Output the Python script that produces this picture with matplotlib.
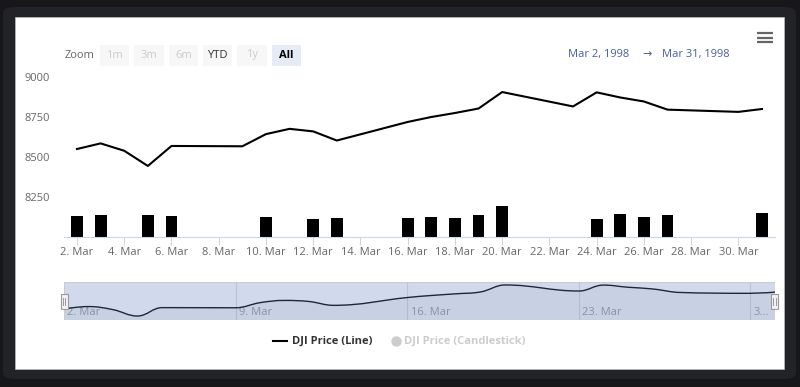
import datetime as dt
import numpy as np
import matplotlib
matplotlib.use("Agg")
import matplotlib.pyplot as plt
import matplotlib.dates as mdates
from matplotlib.patches import Rectangle, FancyBboxPatch, PathPatch
from matplotlib.path import Path
from matplotlib.lines import Line2D
from matplotlib.ticker import FuncFormatter

plt.rcParams['font.family'] = ['Open Sans', 'DejaVu Sans']

# DJI close, March 1998 (trading days only)
line_days = [2, 3, 4, 5, 6, 9, 10, 11, 12, 13, 16, 17, 18, 19, 20,
             23, 24, 25, 26, 27, 30, 31]
line_close = [8550, 8585, 8539, 8444, 8569, 8567, 8643, 8676, 8660, 8603,
              8719, 8750, 8775, 8803, 8906, 8816, 8904, 8872, 8847, 8796,
              8782, 8800]

# black columns near the bottom of the price axis
bar_days = [2, 3, 5, 6, 10, 12, 13, 16, 17, 18, 19, 20, 24, 25, 26, 27, 31]
bar_vals = [8133, 8139, 8139, 8133, 8127, 8111, 8117, 8117, 8123, 8117,
            8136, 8192, 8111, 8146, 8123, 8139, 8150]

y_ticks = [8250, 8500, 8750, 9000]
zoom_buttons = ['1m', '3m', '6m', 'YTD', '1y', 'All']
nav_label_days = [2, 9, 16, 23, 30]

W, H = 800, 387


def fx(x):
	return x / W


def fy(y):
	return 1 - y / H


def mar(d):
	return mdates.date2num(dt.datetime(1998, 3, d))


fig = plt.figure(figsize=(W / 100, H / 100), dpi=100)
fig.patch.set_facecolor('#17171a')

# dark rounded band and white panel
fig.patches.append(FancyBboxPatch((fx(3), fy(379)), fx(793), 372 / H,
                                  boxstyle='round,pad=0,rounding_size=0.015',
                                  transform=fig.transFigure, facecolor='#222327',
                                  edgecolor='none', zorder=-3))
fig.patches.append(Rectangle((fx(15), fy(369)), fx(769), 352 / H,
                             transform=fig.transFigure, facecolor='white',
                             edgecolor='#bbbbbb', linewidth=0.5, zorder=-2))

# ---- main chart
ax = fig.add_axes([fx(64), fy(237), fx(711), 160 / H])
ax.set_zorder(2)
ax.set_facecolor('none')
xd = [mar(d) for d in line_days]
bd = [mar(d) for d in bar_days]
ax.bar(bd, bar_vals, width=0.5, color='black', zorder=2)
ax.plot(xd, line_close, color='black', linewidth=1.5, zorder=3)
ax.set_xlim(mar(2) - 0.55, mar(31) + 0.55)
ax.set_ylim(8000, 9000)
ax.set_yticks(y_ticks)
ax.set_xticks([mar(d) for d in range(2, 31, 2)])
ax.xaxis.set_major_formatter(FuncFormatter(
	lambda v, p: f"{mdates.num2date(v).day}. Mar"))
ax.tick_params(axis='y', length=0, pad=10, labelsize=8, labelcolor='#666666')
ax.tick_params(axis='x', length=5.8, width=0.8, color='#ccd6eb', pad=1.5,
               labelsize=8, labelcolor='#666666')
for s in ['top', 'right', 'left']:
	ax.spines[s].set_visible(False)
ax.spines['bottom'].set_color('#ccd6eb')
ax.spines['bottom'].set_linewidth(0.8)

# ---- navigator
nav = fig.add_axes([fx(64), fy(320), fx(711), 38 / H])
nav.set_zorder(2)
nav.set_xlim(mar(2), mar(31))
nav.set_ylim(8385, 8950)
nav.set_axis_off()

# smoothed navigator line (Highcharts-like spline control points)
xs = np.array(xd)
ys = np.array(line_close, dtype=float)
n = len(xs)
lc = [None] * n
rc = [None] * n
sm, den = 1.5, 2.5
for i in range(1, n - 1):
	lx = (sm * xs[i] + xs[i - 1]) / den
	ly = (sm * ys[i] + ys[i - 1]) / den
	rx = (sm * xs[i] + xs[i + 1]) / den
	ry = (sm * ys[i] + ys[i + 1]) / den
	if rx != lx:
		corr = (ry - ly) * (rx - xs[i]) / (rx - lx) + ys[i] - ry
		ly += corr
		ry += corr
	if ly > max(ys[i - 1], ys[i]):
		ly = max(ys[i - 1], ys[i]); ry = 2 * ys[i] - ly
	elif ly < min(ys[i - 1], ys[i]):
		ly = min(ys[i - 1], ys[i]); ry = 2 * ys[i] - ly
	if ry > max(ys[i + 1], ys[i]):
		ry = max(ys[i + 1], ys[i]); ly = 2 * ys[i] - ry
	elif ry < min(ys[i + 1], ys[i]):
		ry = min(ys[i + 1], ys[i]); ly = 2 * ys[i] - ry
	lc[i] = (lx, ly)
	rc[i] = (rx, ry)
verts = [(xs[0], ys[0])]
codes = [Path.MOVETO]
for i in range(1, n):
	c1 = rc[i - 1] if rc[i - 1] else (xs[i - 1], ys[i - 1])
	c2 = lc[i] if lc[i] else (xs[i], ys[i])
	verts += [c1, c2, (xs[i], ys[i])]
	codes += [Path.CURVE4] * 3
nav.add_patch(PathPatch(Path(verts, codes), facecolor='none',
                        edgecolor='black', linewidth=1, zorder=3))
area_v = verts + [(xs[-1], 8385), (xs[0], 8385), (xs[0], ys[0])]
area_c = codes + [Path.LINETO, Path.LINETO, Path.CLOSEPOLY]
nav.add_patch(PathPatch(Path(area_v, area_c), facecolor='black', alpha=0.05,
                        edgecolor='none', zorder=2))
for d in nav_label_days[1:]:
	nav.axvline(mar(d), color='#e0e0e0', linewidth=0.8, zorder=1)
for d in nav_label_days:
	lab = f"{d}. Mar" if d != 30 else "3..."
	nav.text(mar(d) + 0.14, 8385 + 565 * 0.2, lab, fontsize=8, color='#999999',
	         ha='left', va='center', zorder=2)
# selected range mask
nav.add_patch(Rectangle((0, 0), 1, 1, transform=nav.transAxes,
                        facecolor=(102 / 255, 133 / 255, 194 / 255), alpha=0.3,
                        edgecolor='none', zorder=4))
nav.add_patch(Rectangle((0, 0), 1, 1, transform=nav.transAxes, facecolor='none',
                        edgecolor='#cccccc', linewidth=0.8, zorder=5))

# handles
for hx in [64, 774.5]:
	fig.patches.append(Rectangle((fx(hx - 3.5), fy(309)), fx(7), 15 / H,
	                             transform=fig.transFigure, facecolor='#f2f2f2',
	                             edgecolor='#999999', linewidth=0.8, zorder=6))
	for dx in [-1.2, 1.2]:
		fig.lines.append(Line2D([fx(hx + dx)] * 2, [fy(298), fy(305)],
		                        transform=fig.transFigure, color='#999999',
		                        linewidth=0.7, zorder=7))

# ---- range selector
fig.text(fx(65), fy(55), 'Zoom', fontsize=8, color='#666666', ha='left', va='center')
for i, b in enumerate(zoom_buttons):
	x0 = 100 + i * 34.3
	if b == 'All':
		bg, tc, fw = '#e6ebf5', '#000000', 'bold'
	elif b == 'YTD':
		bg, tc, fw = '#f7f7f7', '#333333', 'normal'
	else:
		bg, tc, fw = '#f7f7f7', '#cccccc', 'normal'
	fig.patches.append(Rectangle((fx(x0), fy(65.5)), fx(29.3), 20.5 / H,
	                             transform=fig.transFigure, facecolor=bg,
	                             edgecolor='none', zorder=2))
	fig.text(fx(x0 + 14.65), fy(55), b, fontsize=8, color=tc, fontweight=fw,
	         ha='center', va='center', zorder=3)

# date range inputs
date_col = '#4a5ca3'
fig.text(fx(568), fy(54.5), 'Mar 2, 1998', fontsize=8, color=date_col,
         ha='left', va='center')
fig.text(fx(647), fy(54.5), '→', fontsize=8, color=date_col,
         ha='center', va='center')
fig.text(fx(662), fy(54.5), 'Mar 31, 1998', fontsize=8, color=date_col,
         ha='left', va='center')

# context menu icon
for yy in [33, 37.5, 42]:
	fig.lines.append(Line2D([fx(757), fx(773)], [fy(yy)] * 2,
	                        transform=fig.transFigure, color='#666666',
	                        linewidth=1.6, solid_capstyle='butt', zorder=3))

# ---- legend
fig.lines.append(Line2D([fx(273), fx(287)], [fy(341)] * 2, transform=fig.transFigure,
                        color='black', linewidth=1.5, zorder=3))
fig.text(fx(292), fy(341), 'DJI Price (Line)', fontsize=8, fontweight='bold',
         color='#333333', ha='left', va='center')
fig.lines.append(Line2D([fx(396)], [fy(341)], transform=fig.transFigure,
                        marker='o', markersize=6.5, color='#cccccc',
                        linestyle='none', zorder=3))
fig.text(fx(404), fy(341), 'DJI Price (Candlestick)', fontsize=8,
         fontweight='bold', color='#cccccc', ha='left', va='center')

fig.savefig('out.png', dpi=100, facecolor=fig.get_facecolor())
